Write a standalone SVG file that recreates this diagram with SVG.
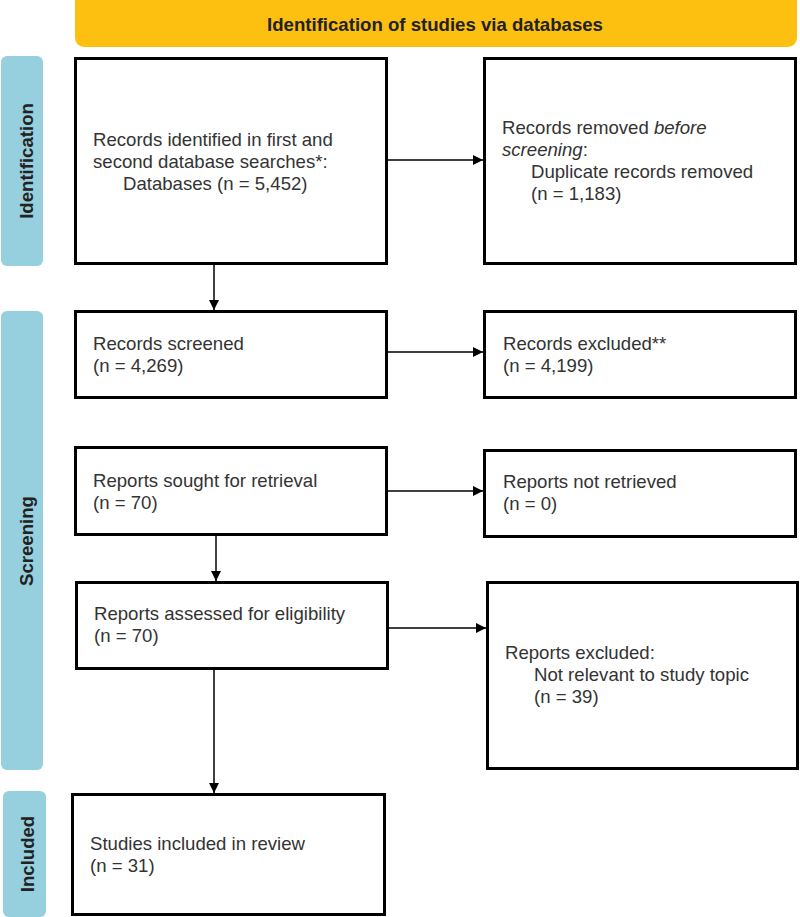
<svg xmlns="http://www.w3.org/2000/svg" width="800" height="917" viewBox="0 0 800 917">
<defs>
<style>
.box{fill:#fff;stroke:#000;stroke-width:3}
.t{font-family:"Liberation Sans",Arial,sans-serif;font-size:18.6px;fill:#333}
.side{fill:#96CFDE}
.st{font-family:"Liberation Sans",Arial,sans-serif;font-size:18.6px;font-weight:bold;fill:#222;text-anchor:middle}
.c{stroke:#000;stroke-width:1.5;fill:none;marker-end:url(#ah)}
</style>
<marker id="ah" viewBox="0 0 10 10" refX="10" refY="5" markerWidth="10" markerHeight="10" markerUnits="userSpaceOnUse" orient="auto">
<path d="M0,0 L10,5 L0,10 z" fill="#000"/>
</marker>
</defs>
<rect width="800" height="917" fill="#fff"/>
<g id="banner">
<rect x="75" y="-8" width="722" height="55" rx="9" fill="#FDC011"/>
<text class="st" x="435" y="31">Identification of studies via databases</text>
</g>
<g id="phase-identification">
<rect class="side" x="1" y="56" width="42" height="210" rx="6"/>
<text class="st" transform="translate(33,161) rotate(-90)">Identification</text>
</g>
<g id="phase-screening">
<rect class="side" x="1" y="311" width="42" height="459" rx="6"/>
<text class="st" transform="translate(33,541) rotate(-90)">Screening</text>
</g>
<g id="phase-included">
<rect class="side" x="3" y="791" width="43" height="126" rx="6"/>
<text class="st" transform="translate(34,854) rotate(-90)">Included</text>
</g>
<g id="records-identified">
<rect class="box" x="75.5" y="58.5" width="311" height="205"/>
<text class="t" x="93" y="146">Records identified in first and</text>
<text class="t" x="93" y="168">second database searches*:</text>
<text class="t" x="123" y="190">Databases (n = 5,452)</text>
</g>
<g id="records-removed">
<rect class="box" x="484.5" y="58.5" width="311" height="205"/>
<text class="t" x="502" y="134">Records removed <tspan font-style="italic">before</tspan></text>
<text class="t" x="502" y="156"><tspan font-style="italic">screening</tspan>:</text>
<text class="t" x="531" y="178">Duplicate records removed</text>
<text class="t" x="531" y="200">(n = 1,183)</text>
</g>
<g id="records-screened">
<rect class="box" x="75.5" y="311.5" width="311" height="86"/>
<text class="t" x="93" y="350">Records screened</text>
<text class="t" x="93" y="372">(n = 4,269)</text>
</g>
<g id="records-excluded">
<rect class="box" x="484.5" y="311.5" width="311" height="86"/>
<text class="t" x="503" y="350">Records excluded**</text>
<text class="t" x="503" y="372">(n = 4,199)</text>
</g>
<g id="reports-sought">
<rect class="box" x="75.5" y="447.5" width="311" height="87"/>
<text class="t" x="93" y="487">Reports sought for retrieval</text>
<text class="t" x="93" y="509">(n = 70)</text>
</g>
<g id="reports-not-retrieved">
<rect class="box" x="484.5" y="450.5" width="311" height="86"/>
<text class="t" x="503" y="488">Reports not retrieved</text>
<text class="t" x="503" y="510">(n = 0)</text>
</g>
<g id="reports-assessed">
<rect class="box" x="76.5" y="582.5" width="311" height="86"/>
<text class="t" x="94" y="620">Reports assessed for eligibility</text>
<text class="t" x="94" y="642">(n = 70)</text>
</g>
<g id="reports-excluded">
<rect class="box" x="487.5" y="582.5" width="310" height="186"/>
<text class="t" x="505" y="659">Reports excluded:</text>
<text class="t" x="534" y="681">Not relevant to study topic</text>
<text class="t" x="534" y="703">(n = 39)</text>
</g>
<g id="studies-included">
<rect class="box" x="72.5" y="794.5" width="312" height="120"/>
<text class="t" x="90" y="850">Studies included in review</text>
<text class="t" x="90" y="872">(n = 31)</text>
</g>
<g id="connectors">
<line class="c" x1="388" y1="160" x2="483" y2="160"/>
<line class="c" x1="214" y1="265" x2="214" y2="310"/>
<line class="c" x1="388" y1="352" x2="483" y2="352"/>
<line class="c" x1="388" y1="491" x2="483" y2="491"/>
<line class="c" x1="216" y1="536" x2="216" y2="581"/>
<line class="c" x1="389" y1="628" x2="486" y2="628"/>
<line class="c" x1="214" y1="669" x2="214" y2="793"/>
</g>
</svg>
